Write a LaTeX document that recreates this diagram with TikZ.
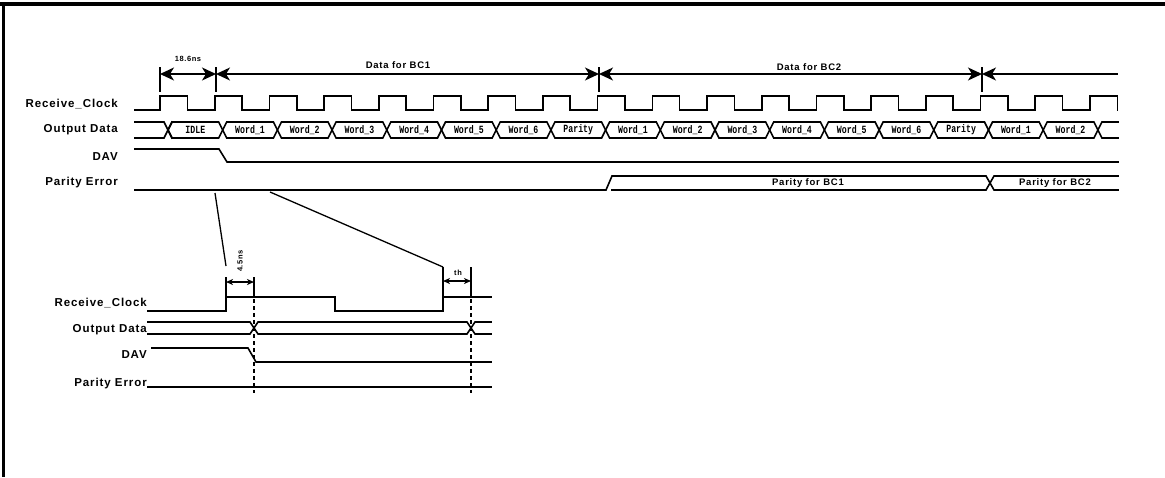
\documentclass[tikz,border=0pt]{standalone}
\usepackage{fontspec}
\setmainfont{Liberation Sans}
\newfontfamily\lblfont[LetterSpace=8]{Liberation Sans}
\newfontfamily\busfont{Liberation Mono}
\usepackage{graphicx}
\usetikzlibrary{arrows.meta}
\begin{document}
\begin{tikzpicture}[x=1pt,y=-1pt,
  wave/.style={line width=1.6pt,line join=miter,line cap=rect},
  thin/.style={line width=1.3pt},
  siglabel/.style={anchor=east,inner sep=0pt,font=\lblfont\bfseries\fontsize{11.5}{12}\selectfont},
  buslabel/.style={inner sep=0pt,font=\busfont\bfseries\fontsize{11}{11}\selectfont},
  dimlabel/.style={inner sep=0pt,font=\lblfont\bfseries\fontsize{9.5}{10}\selectfont},
  tinylabel/.style={inner sep=0pt,font=\lblfont\bfseries\fontsize{7.5}{8}\selectfont},
  bigarrows/.style={line width=1.4pt,{Stealth[length=14pt,width=13pt,inset=4pt]}-{Stealth[length=14pt,width=13pt,inset=4pt]}},
  bigleft/.style={line width=1.4pt,{Stealth[length=14pt,width=13pt,inset=4pt]}-},
  smallarrows/.style={line width=1.3pt,{Stealth[length=7pt,width=6pt,inset=2pt]}-{Stealth[length=7pt,width=6pt,inset=2pt]}},
  dashv/.style={line width=1.4pt,dash pattern=on 4pt off 3pt}
]
\useasboundingbox (0,0) rectangle (1165,477);
% frame (cropped)
\fill (0,2) rectangle (1165,6);
\fill (2,2) rectangle (5,477);

% ---------------- top timing diagram ----------------
\node[siglabel] (lclk) at (118,104) {Receive\_Clock};
\node[siglabel] (ldat) at (118,130) {Output Data};
\node[siglabel] (ldav) at (118,157) {DAV};
\node[siglabel] (lpar) at (118,183) {Parity Error};

% dimension lines
\coordinate (d0) at (160,74);
\coordinate (d1) at (216,74);
\coordinate (d2) at (599,74);
\coordinate (d3) at (982,74);
\coordinate (d4) at (1118,74);
\draw[thin] (160,67) -- (160,92);
\draw[thin] (216,67) -- (216,92);
\draw[thin] (599,67) -- (599,92);
\draw[thin] (982,67) -- (982,92);
\draw[bigarrows] (d0) -- (d1);
\draw[bigarrows] (d1) -- (d2);
\draw[bigarrows] (d2) -- (d3);
\draw[bigleft] (d3) -- (d4);
\node[tinylabel] (t186) at (188,59) {18.6ns};
\node[dimlabel] (tbc1) at (398,65) {Data for BC1};
\node[dimlabel] (tbc2) at (809,67) {Data for BC2};

% clock
\draw[wave] (135,110)
  foreach \k in {0,...,16} {
    -- ({160+\k*54.7},110) -- ({160+\k*54.7},96) -- ({187.35+\k*54.7},96) -- ({187.35+\k*54.7},110)
  } -- (1090,110) -- (1090,96) -- (1117.5,96) -- (1117.5,110);

% output data bus
\draw[wave] (135,122) -- (164,122) -- (172,138);
\draw[wave] (135,138) -- (164,138) -- (172,122);
\foreach \lab [count=\k from 0] in {IDLE,Word\_1,Word\_2,Word\_3,Word\_4,Word\_5,Word\_6,Parity,Word\_1,Word\_2,Word\_3,Word\_4,Word\_5,Word\_6,Parity,Word\_1,Word\_2} {
  \pgfmathsetmacro\ta{168+\k*54.7}
  \pgfmathsetmacro\tb{168+(\k+1)*54.7}
  \draw[wave] (\ta,130) -- (\ta+4,122) -- (\tb-4,122) -- (\tb,130) -- (\tb-4,138) -- (\ta+4,138) -- cycle;
  \node[buslabel] (bus\k) at ({(\ta+\tb)/2},130) {\scalebox{0.75}[1]{\lab}};
}
\draw[wave] (1097.9,130) -- (1101.9,122) -- (1118,122);
\draw[wave] (1097.9,130) -- (1101.9,138) -- (1118,138);

% DAV
\draw[wave] (135,149) -- (219,149) -- (227,162) -- (1118,162);

% Parity error
\draw[wave] (135,190) -- (606,190) -- (612,176) -- (986,176) -- (994,190) -- (1118,190);
\draw[wave] (612,190) -- (986,190) -- (994,176) -- (1118,176);
\node[dimlabel] (pbc1) at (808,183) {Parity for BC1};
\node[dimlabel] (pbc2) at (1055,183) {Parity for BC2};

% zoom connectors
\coordinate (z1a) at (215,193);
\coordinate (z1b) at (226,266);
\coordinate (z2a) at (270,192);
\coordinate (z2b) at (443,267);
\draw[thin] (z1a) -- (z1b);
\draw[thin] (z2a) -- (z2b);

% ---------------- bottom (zoomed) diagram ----------------
\node[siglabel] (bclk) at (147,303) {Receive\_Clock};
\node[siglabel] (bdat) at (147,330) {Output Data};
\node[siglabel] (bdav) at (147,355) {DAV};
\node[siglabel] (bpar) at (147,384) {Parity Error};

\draw[wave] (148,311) -- (226,311) -- (226,297) -- (335,297) -- (335,311) -- (443,311) -- (443,297) -- (491,297);
\draw[wave] (148,322) -- (250,322) -- (258,334) -- (467,334) -- (475,322) -- (491,322);
\draw[wave] (148,334) -- (250,334) -- (258,322) -- (467,322) -- (475,334) -- (491,334);
\draw[wave] (152,348) -- (248,348) -- (256,362) -- (491,362);
\draw[wave] (148,387) -- (491,387);

\draw[dashv] (254,299) -- (254,393);
\draw[dashv] (471,299) -- (471,393);

% 4.5ns dimension
\draw[thin] (226,277) -- (226,297);
\draw[thin] (254,277) -- (254,297);
\coordinate (a1) at (226,282);
\coordinate (a2) at (254,282);
\draw[smallarrows] (a1) -- (a2);
\node[tinylabel,rotate=90] (t45) at (240,261) {4.5ns};

% th dimension
\draw[thin] (443,267) -- (443,297);
\draw[thin] (471,267) -- (471,297);
\coordinate (h1) at (443,281);
\coordinate (h2) at (471,281);
\draw[smallarrows] (h1) -- (h2);
\node[tinylabel] (tth) at (458,273) {th};
\end{tikzpicture}
\end{document}
